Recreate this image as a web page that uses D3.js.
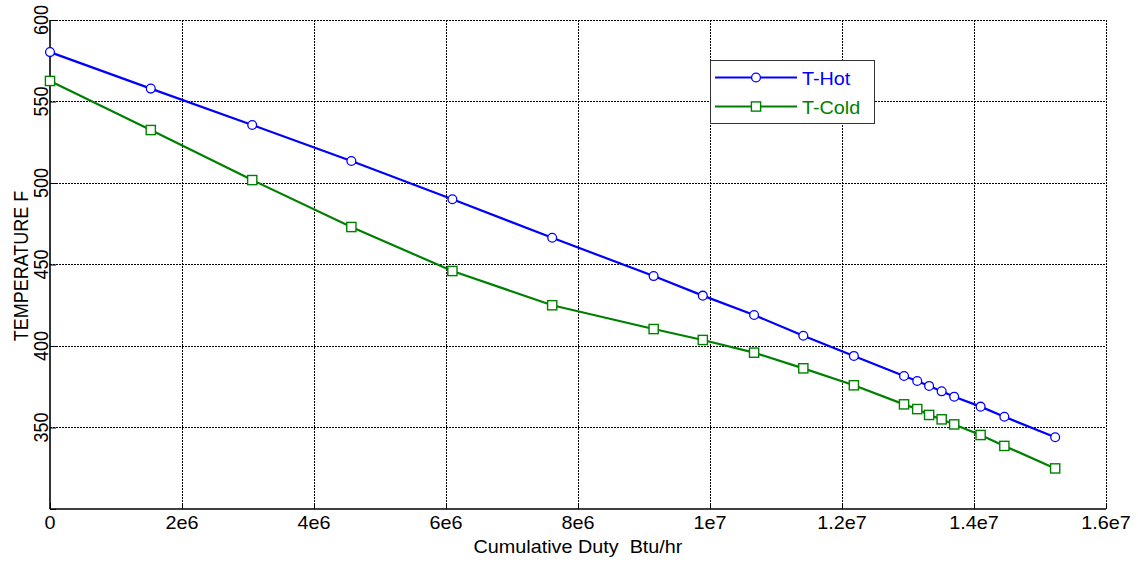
<!DOCTYPE html>
<html>
<head>
<meta charset="utf-8">
<script src="https://cdn.jsdelivr.net/npm/d3@7"></script>
<style>
  html, body { margin: 0; padding: 0; background: #fff; }
  svg { display: block; }
  text { font-family: "Liberation Sans", Arial, sans-serif; fill: #000; white-space: pre; }
</style>
</head>
<body>
<svg id="chart" width="1138" height="562"></svg>
<script>
// Cumulative heat duty (Btu/hr) at each station
const duty = [0, 1.527e6, 3.064e6, 4.566e6, 6.097e6, 7.609e6, 9.146e6, 9.891e6,
  10.668e6, 11.414e6, 12.18e6, 12.94e6, 13.14e6, 13.32e6, 13.51e6, 13.70e6,
  14.10e6, 14.46e6, 15.23e6];
// Hot-side and cold-side temperatures (F)
const tHot = [580.3, 557.9, 535.6, 513.5, 490.0, 466.4, 442.9, 430.9, 419.0,
  406.3, 393.9, 381.6, 378.5, 375.5, 372.2, 368.9, 362.8, 356.6, 344.0];
const tCold = [562.6, 532.5, 501.8, 473.0, 446.0, 425.0, 410.4, 403.7, 395.9,
  386.3, 375.9, 364.2, 361.3, 357.7, 355.0, 351.9, 345.4, 338.7, 324.9];
const seriesNames = ["T-Hot", "T-Cold"];
const seriesColors = ["#0000ff", "#008000"];
const xTicks = [0, 2e6, 4e6, 6e6, 8e6, 1e7, 1.2e7, 1.4e7, 1.6e7];
const xTickLabels = ["0", "2e6", "4e6", "6e6", "8e6", "1e7", "1.2e7", "1.4e7", "1.6e7"];
const yTicks = [300, 350, 400, 450, 500, 550, 600];
const yTickLabels = ["", "350", "400", "450", "500", "550", "600"];

const svg = d3.select("#chart");
const pL = 50, pR = 1106, pT = 20, pB = 509;
const x = d3.scaleLinear().domain([0, 1.6e7]).range([pL, pR]);
const y = d3.scaleLinear().domain([300, 600]).range([pB, pT]);
const SX = 1.1; // horizontal glyph stretch
const FS = 18;

// grid
const grid = svg.append("g");
grid.selectAll("line.vx").data(xTicks.filter(d => d > 0)).join("line")
  .attr("x1", d => x(d)).attr("x2", d => x(d))
  .attr("y1", pT).attr("y2", pB)
  .attr("stroke", "#000").attr("stroke-width", 1).attr("stroke-dasharray", "1.5,1.5")
  .attr("shape-rendering", "crispEdges");
grid.selectAll("line.hy").data(yTicks.filter(d => d > 300)).join("line")
  .attr("x1", pL).attr("x2", pR)
  .attr("y1", d => y(d)).attr("y2", d => y(d))
  .attr("stroke", "#000").attr("stroke-width", 1).attr("stroke-dasharray", "1.5,1.5")
  .attr("shape-rendering", "crispEdges");

// axes (left and bottom), ticks pointing inward
const xAxis = d3.axisBottom(x).tickValues(xTicks).tickSize(-6).tickFormat("");
const yAxis = d3.axisLeft(y).tickValues(yTicks).tickSize(-6).tickFormat("");
const gx = svg.append("g").attr("transform", `translate(0,${pB})`).call(xAxis);
const gy = svg.append("g").attr("transform", `translate(${pL},0)`).call(yAxis);
[gx, gy].forEach(g => {
  g.select(".domain").attr("stroke", "#000").attr("stroke-width", 1.6);
  g.selectAll(".tick line").attr("stroke", "#000").attr("stroke-width", 1);
});
gx.select(".domain").attr("d", `M${pL},0H${pR}`);
gy.select(".domain").attr("d", `M0,${pT}V${pB}`);

// tick labels
svg.append("g").selectAll("text").data(xTicks).join("text")
  .attr("transform", d => `translate(${x(d)},529) scale(${SX},1)`)
  .attr("text-anchor", "middle").attr("font-size", FS)
  .text((d, i) => xTickLabels[i]);
svg.append("g").selectAll("text").data(yTicks).join("text")
  .attr("transform", d => `translate(48,${y(d)}) scale(${SX},1) rotate(-90)`)
  .attr("text-anchor", "middle").attr("font-size", FS)
  .text((d, i) => yTickLabels[i]);

// axis titles
svg.append("text")
  .attr("transform", `translate(578,553) scale(${SX},1)`)
  .attr("text-anchor", "middle").attr("font-size", FS)
  .text("Cumulative Duty  Btu/hr");
svg.append("text")
  .attr("transform", `translate(28,266) scale(${SX},1) rotate(-90)`)
  .attr("text-anchor", "middle").attr("font-size", FS)
  .text("TEMPERATURE F");

// series
const series = [tHot, tCold];
const line = d3.line().x(d => x(d[0])).y(d => y(d[1]));
series.forEach((vals, s) => {
  const pts = duty.map((d, i) => [d, vals[i]]);
  svg.append("path").datum(pts)
    .attr("d", line).attr("fill", "none")
    .attr("stroke", seriesColors[s]).attr("stroke-width", 2.2);
  const g = svg.append("g");
  if (s === 0) {
    g.selectAll("circle").data(pts).join("circle")
      .attr("cx", d => x(d[0])).attr("cy", d => y(d[1])).attr("r", 4.4)
      .attr("fill", "#fff").attr("stroke", seriesColors[s]).attr("stroke-width", 1.3);
  } else {
    g.selectAll("rect").data(pts).join("rect")
      .attr("x", d => x(d[0]) - 4.6).attr("y", d => y(d[1]) - 4.6)
      .attr("width", 9.2).attr("height", 9.2)
      .attr("fill", "#fff").attr("stroke", seriesColors[s]).attr("stroke-width", 1.4);
  }
});

// legend
const lg = svg.append("g");
lg.append("rect").attr("x", 710.5).attr("y", 60.5).attr("width", 164).attr("height", 63)
  .attr("fill", "#fff").attr("stroke", "#333").attr("stroke-width", 1);
seriesNames.forEach((name, s) => {
  const ly = 77.5 + s * 29;
  lg.append("line").attr("x1", 715).attr("x2", 797).attr("y1", ly).attr("y2", ly)
    .attr("stroke", seriesColors[s]).attr("stroke-width", 2.2);
  if (s === 0) {
    lg.append("circle").attr("cx", 756).attr("cy", ly).attr("r", 4.4)
      .attr("fill", "#fff").attr("stroke", seriesColors[s]).attr("stroke-width", 1.3);
  } else {
    lg.append("rect").attr("x", 751.4).attr("y", ly - 4.6).attr("width", 9.2).attr("height", 9.2)
      .attr("fill", "#fff").attr("stroke", seriesColors[s]).attr("stroke-width", 1.4);
  }
  lg.append("text")
    .attr("transform", `translate(802,${ly + 7}) scale(${SX},1)`)
    .attr("font-size", FS).style("fill", seriesColors[s])
    .text(name);
});
</script>
</body>
</html>
